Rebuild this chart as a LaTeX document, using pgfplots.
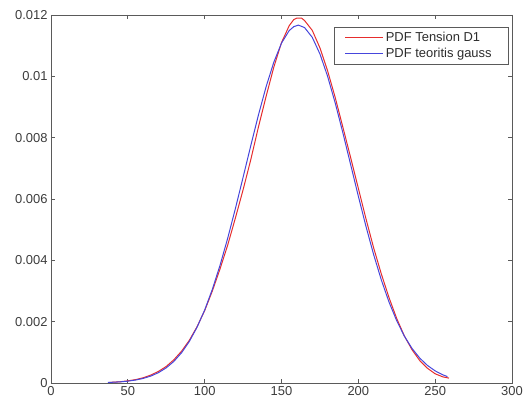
\documentclass[border=0pt]{standalone}
\usepackage{pgfplots}
\pgfplotsset{compat=1.18}
\usepackage{fontspec}
\setmainfont{Liberation Sans}
\definecolor{mred}{RGB}{230,45,45}
\definecolor{mblue}{RGB}{70,70,220}
\definecolor{axgray}{RGB}{90,90,90}
\definecolor{txtgray}{RGB}{60,60,60}
\definecolor{legtxt}{RGB}{45,45,45}
\begin{document}
\begin{tikzpicture}
\path[use as bounding box] (-51bp,-28bp) rectangle (477bp,383bp);
\begin{axis}[
  at={(0,0)}, anchor=south west,
  scale only axis, width=461bp, height=368bp,
  xmin=0, xmax=300, ymin=0, ymax=0.012,
  xtick={0,50,...,300},
  ytick={0,0.002,0.004,0.006,0.008,0.01,0.012},
  scaled y ticks=false,
  /pgf/number format/assume math mode=true,
  yticklabel style={/pgf/number format/fixed,/pgf/number format/precision=3},
  tick label style={font=\fontsize{13}{14}\selectfont, text=txtgray},
  tick align=inside, major tick length=4bp,
  axis line style={axgray, line width=0.8bp},
  every tick/.style={axgray, line width=0.8bp},
  xtick pos=both, ytick pos=both,
  legend style={at={(1,1)}, anchor=north east, xshift=-3bp, yshift=-12bp,
    draw=axgray, line width=0.7bp, font=\fontsize{13}{15}\selectfont,
    inner xsep=10bp, inner ysep=3bp, row sep=1bp},
  legend cell align=left,
]
\addplot[color=mred, line width=1bp, forget plot] coordinates {
(38,0.00002) (45,0.00004) (50,0.00007) (55,0.00011) (60,0.00017) (65,0.00026)
(70,0.00038) (75,0.00054) (80,0.00076) (85,0.00104) (90,0.00139) (95,0.00183)
(100,0.00236) (105,0.00300) (110,0.00372) (115,0.00450) (120,0.00538) (125,0.00630)
(130,0.00728) (135,0.00835) (140,0.00935) (145,0.01030) (150,0.01110) (155,0.01165)
(158,0.01185) (160,0.01190) (163,0.01190) (165,0.01182) (170,0.01150) (175,0.01093)
(180,0.01018) (185,0.00930) (190,0.00833) (195,0.00735) (200,0.00635) (205,0.00535)
(210,0.00440) (215,0.00355) (220,0.00278) (225,0.00210) (230,0.00153) (235,0.00108)
(240,0.00073) (245,0.00048) (250,0.00030) (255,0.00020) (259,0.00016)
};
\addplot[color=mblue, line width=1bp, forget plot] coordinates {
(37,0.0000163) (45,0.0000371) (50,0.0000602) (55,0.0000957) (60,0.000149) (65,0.000227)
(70,0.000339) (75,0.000494) (80,0.000706) (85,0.000988) (90,0.001353) (95,0.001814)
(100,0.002378) (105,0.003054) (110,0.003838) (115,0.004723) (120,0.005689) (125,0.006707)
(130,0.007738) (135,0.008741) (140,0.009665) (145,0.010460) (150,0.011082) (155,0.011492)
(158,0.011620) (161,0.011670) (165,0.011590) (170,0.011273) (175,0.010732) (180,0.010001)
(185,0.009124) (190,0.008146) (195,0.007120) (200,0.006092) (205,0.005101) (210,0.004181)
(215,0.003355) (220,0.002635) (225,0.002026) (230,0.001524) (235,0.001123) (240,0.000810)
(245,0.000572) (250,0.000395) (255,0.000267) (258,0.000209)
};
\addlegendimage{legend image code/.code={\draw[draw=mred, line width=1.2bp] (0bp,0bp) -- (38bp,0bp);}}
\addlegendentry{\textcolor{legtxt}{PDF Tension D1}}
\addlegendimage{legend image code/.code={\draw[draw=mblue, line width=1.2bp] (0bp,0bp) -- (38bp,0bp);}}
\addlegendentry{\textcolor{legtxt}{PDF teoritis gauss\hspace*{5bp}}}
\end{axis}
\end{tikzpicture}
\end{document}
